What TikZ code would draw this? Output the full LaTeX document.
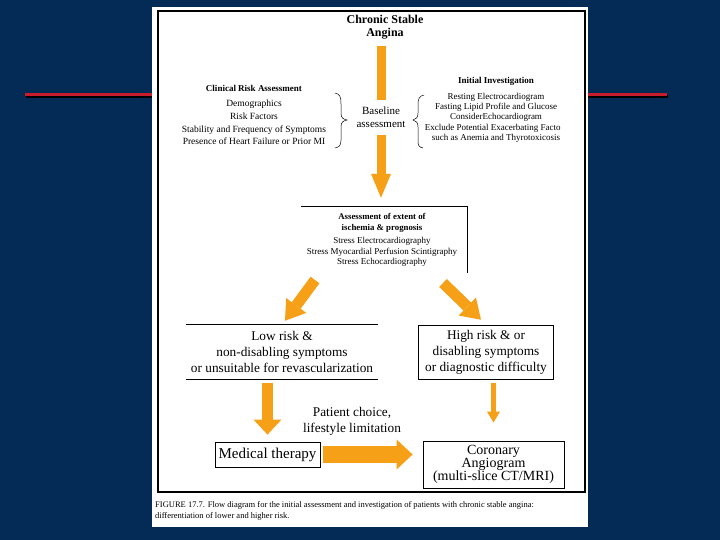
\documentclass[tikz,border=0pt]{standalone}
\usepackage{fontspec}
\setmainfont{Liberation Serif}
\usetikzlibrary{arrows.meta}

\definecolor{slideblue}{RGB}{4,42,86}
\definecolor{slidered}{RGB}{200,28,44}
\definecolor{flowarrow}{RGB}{246,160,24}
\newcommand{\flowfont}[2]{\fontsize{#1}{#2}\selectfont}

\begin{document}
\begin{tikzpicture}[x=1pt,y=1pt,yscale=-1,
    txt/.style={inner sep=0pt, align=center},
    flowbox/.style={draw, line width=0.8pt, inner sep=0pt, align=center},
    flowbar/.style={draw=flowarrow, line width=#1},
    brace/.style={line width=0.5pt}]
        \useasboundingbox (0,0) rectangle (720,540);

        % Slide background and rule
        \fill [slideblue] (0,0) rectangle (720,540);
        \draw [line width=3pt] (26,97) -- (668,97);
        \draw [slidered, line width=3pt] (25,95) -- (667,95);
        \fill [white] (152,7) rectangle (588,527);
        \draw [line width=1.2pt] (158,11) rectangle (585,492);

        % Text Node
        \node [txt, font=\bfseries\flowfont{12}{13}, minimum height=30pt] (title) at (385,27) {Chronic Stable\\Angina};
        % Text Node
        \node [txt, font=\flowfont{11}{13}, minimum width=54pt, minimum height=33pt] (baseline) at (381,117) {Baseline\\assessment};
        % Text Node
        \node [txt, font=\flowfont{9.5}{12.7}] (clinical) at (254,115) {{\bfseries\flowfont{9}{10}Clinical Risk Assessment}\\[3pt]
            Demographics\\Risk Factors\\Stability and Frequency of Symptoms\\Presence of Heart Failure or Prior MI};
        % Text Node
        \node [txt, font=\flowfont{9}{10.3}] (investig) at (496,110) {{\bfseries Initial Investigation}\\[5pt]
            Resting Electrocardiogram\\Fasting Lipid Profile and Glucose\\ConsiderEchocardiogram\\Exclude Potential Exacerbating Facto\phantom{rs}\\such as Anemia and Thyrotoxicosis};

        % Braces
        \draw [brace] (335,93) .. controls (340,94) and (341,97) .. (341,104) -- (341,113) .. controls (341,118) and (343,119) .. (347,120) .. controls (343,121) and (341,122) .. (341,127) -- (341,140) .. controls (341,146) and (339,147) .. (335,148);
        \draw [brace] (424,95) .. controls (419,96) and (418,99) .. (418,105) -- (418,113) .. controls (418,118) and (416,119) .. (413,120) .. controls (416,121) and (418,122) .. (418,127) -- (418,140) .. controls (418,146) and (419,147) .. (423,148);

        % Ischemia (open box)
        \node [txt, minimum width=166pt, minimum height=66pt] (ischemia) at (384,240) {};
        \draw [line width=0.8pt] (ischemia.north west) -- (ischemia.north east) -- (ischemia.south east);
        \node [txt, font=\flowfont{9}{10.5}] (ischtext) at (382,240) {{\bfseries\flowfont{8.8}{10}Assessment of extent of}\\{\bfseries\flowfont{8.8}{10}ischemia \& prognosis}\\[3pt]
            Stress Electrocardiography\\Stress Myocardial Perfusion Scintigraphy\\Stress Echocardiography};

        % Risk boxes
        \node [txt, font=\flowfont{13.3}{16}, minimum width=192pt, minimum height=54pt] (low) at (282,352) {Low risk \&\\non-disabling symptoms\\or unsuitable for revascularization};
        \draw [line width=0.8pt] (low.north west) -- (low.north east) (low.south west) -- (low.south east);
        \node [flowbox, font=\flowfont{13.3}{16}, minimum width=135pt, minimum height=54pt] (high) at (486,352) {High risk \& or\\disabling symptoms\\or diagnostic difficulty};

        % Bottom boxes
        \node [flowbox, font=\flowfont{15}{15}, minimum width=105pt, minimum height=25pt] (medical) at (267.5,454.5) {Medical therapy};
        \node [flowbox, font=\flowfont{14}{13.3}, minimum width=141pt, minimum height=47pt] (coronary) at (493.5,464.5) {Coronary\\Angiogram\\(multi-slice CT/MRI)};
        \node [txt, font=\flowfont{13.3}{16}] (choice) at (352,421) {Patient choice,\\lifestyle limitation};

        % Caption
        \node [txt, anchor=north west, align=left, font=\flowfont{8.5}{11}] (caption) at (155,501) {FIGURE 17.7. Flow diagram for the initial assessment and investigation of patients with chronic stable angina:\\
            differentiation of lower and higher risk.};

        % Orange arrows
        \coordinate (lowtail) at (315,280);
        \coordinate (hightail) at (443,283);
        \draw [flowbar=9pt, shorten <=4pt] (title.south -| baseline.north) -- (baseline.north);
        \draw [flowbar=9pt, shorten <=1.5pt, shorten >=9pt, -{Triangle[length=24pt,width=20pt,line width=0pt]}] (baseline.south) -- (ischemia.north -| baseline.south);
        \draw [flowbar=11pt, shorten >=5pt, -{Triangle[length=19pt,width=25pt,line width=0pt]}] (lowtail) -- (low.north);
        \draw [flowbar=11pt, shorten >=7pt, -{Triangle[length=19pt,width=25pt,line width=0pt]}] (hightail) -- (high.north);
        \draw [flowbar=11pt, shorten <=4pt, shorten >=7pt, -{Triangle[length=15pt,width=28pt,line width=0pt]}] (low.south -| medical.north) -- (medical.north);
        \draw [flowbar=5pt, shorten <=4pt, shorten >=18pt, -{Triangle[length=11pt,width=13pt,line width=0pt]}] (high.south -| coronary.north) -- (coronary.north);
        \draw [flowbar=17pt, shorten <=3pt, shorten >=10pt, -{Triangle[length=16pt,width=30pt,line width=0pt]}] (medical.east) -- (coronary.west |- medical.east);

\end{tikzpicture}
\end{document}
